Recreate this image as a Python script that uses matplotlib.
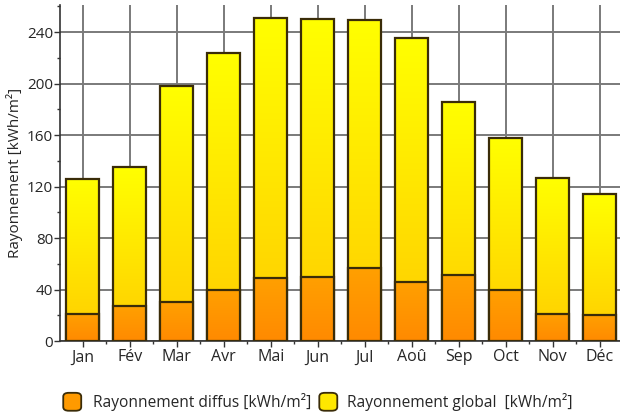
import numpy as np
import matplotlib.pyplot as plt
from matplotlib.colors import LinearSegmentedColormap
from matplotlib.patches import FancyBboxPatch
from matplotlib.ticker import MultipleLocator

plt.rcParams['font.family'] = ['Open Sans', 'DejaVu Sans']

mois = ['Jan', 'Fév', 'Mar', 'Avr', 'Mai', 'Jun', 'Jul', 'Aoû', 'Sep', 'Oct', 'Nov', 'Déc']
diffus = [21, 27, 30, 40, 49, 50, 57, 46, 51, 40, 21, 20]
glob = [126, 135, 198, 224, 251, 250, 249, 235, 186, 158, 127, 114]

lbl_diffus = 'Rayonnement diffus [kWh/m²]'
lbl_global = 'Rayonnement global  [kWh/m²]'

cmap_jaune = LinearSegmentedColormap.from_list('jaune', ['#ffcc00', '#ffff00'])
cmap_orange = LinearSegmentedColormap.from_list('orange', ['#ff8a00', '#ffa000'])
bord = '#3a2c08'
texte = '#262626'

fig = plt.figure(figsize=(6.2, 4.17), dpi=100)
ax = fig.add_axes([0.097, 0.182, 0.903, 0.806])

x = np.arange(len(mois))
w = 0.70


def barres_degrade(vals, cmap, z):
    bars = ax.bar(x, vals, width=w, color='none', edgecolor=bord, linewidth=1.6, zorder=z + 1)
    grad = np.linspace(0, 1, 256).reshape(-1, 1)
    for b in bars:
        x0, y0 = b.get_x(), b.get_y()
        im = ax.imshow(grad, cmap=cmap, origin='lower', aspect='auto',
                       extent=[x0, x0 + b.get_width(), y0, y0 + b.get_height()], zorder=z)
        im.set_clip_path(b)
    return bars


barres_degrade(glob, cmap_jaune, 3)
barres_degrade(diffus, cmap_orange, 5)

ax.set_xlim(-0.48, 11.43)
ax.set_ylim(0, 261)
ax.set_xticks(x)
ax.set_xticklabels(mois, fontsize=11.5, color=texte)
ax.xaxis.set_minor_locator(MultipleLocator(1, offset=0.5))
ax.yaxis.set_major_locator(MultipleLocator(40))
ax.yaxis.set_minor_locator(MultipleLocator(20))
ax.tick_params(axis='y', labelsize=11, labelcolor=texte, length=4, width=1, color='#333333', pad=1)
ax.tick_params(axis='x', length=4, width=1, color='#333333', pad=2)
ax.tick_params(which='minor', length=2, width=1, color='#333333')

ax.grid(True, which='major', color='#7a7a7a', linewidth=1.4, zorder=1)
ax.set_axisbelow(True)
for s in ['top', 'right']:
    ax.spines[s].set_visible(False)
for s in ['left', 'bottom']:
    ax.spines[s].set_color('#333333')
    ax.spines[s].set_linewidth(1.2)

ax.set_ylabel('Rayonnement [kWh/m²]', fontsize=11, color=texte, labelpad=3)

# légende en bas, pastilles arrondies
def pastille(xf, couleur):
    p = FancyBboxPatch((xf, 0.015), 0.029, 0.043, boxstyle='round,pad=0,rounding_size=0.009',
                       transform=fig.transFigure, facecolor=couleur, edgecolor=bord, linewidth=1.3)
    fig.add_artist(p)

pastille(0.102, '#ff9a00')
fig.text(0.150, 0.036, lbl_diffus, fontsize=11.2, color=texte, va='center')
pastille(0.515, '#ffe800')
fig.text(0.559, 0.036, lbl_global, fontsize=11.2, color=texte, va='center')

fig.savefig('out.png', dpi=100)
